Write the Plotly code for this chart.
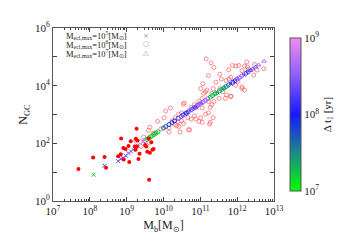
import plotly.graph_objects as go

# ---- data (log10 values) ----
# observed galaxies (red filled dots)
obs_logM = [7.69, 8.09, 8.40, 8.44, 8.84, 8.85, 8.91, 9.05, 8.92, 9.07, 9.11, 9.25, 9.27,
            9.22, 9.28, 9.32, 9.24, 9.35, 9.53, 9.56, 9.60, 9.63, 9.70, 9.67, 9.73, 9.61,
            8.77, 8.97, 9.29, 9.50]
obs_logN = [1.11, 1.51, 1.53, 1.15, 1.62, 2.17, 1.84, 1.91, 1.44, 1.35, 2.07, 2.16, 2.51,
            1.89, 1.89, 1.46, 1.78, 1.64, 1.89, 1.71, 2.17, 1.67, 1.78, 2.04, 1.80, 0.74,
            1.55, 1.80, 2.10, 1.94]

# observed galaxies (red open circles)
oc_logM = [11.16, 11.29, 11.37, 11.77, 11.87, 11.96, 12.04, 12.20, 12.30, 12.13, 12.45, 11.22,
           11.53, 11.57, 11.42, 11.70, 11.78, 12.02, 12.13, 12.20, 11.96, 11.07, 11.01, 11.14,
           11.31, 11.53, 11.61, 11.71, 11.83, 11.68, 11.51, 11.37, 11.22, 11.05, 10.96, 10.84,
           10.75, 10.88, 11.05, 11.22, 11.27, 11.14, 11.01, 10.88, 10.84, 10.75, 10.56, 10.49,
           10.62, 10.66, 10.41, 10.32, 10.39, 10.49, 10.71, 10.42, 11.05, 11.27, 10.06, 9.84,
           10.23, 10.32, 10.15, 9.63, 11.35, 10.54, 10.19, 10.02, 9.93, 9.59, 9.46, 9.61,
           9.72, 10.36, 10.15, 10.45, 9.39, 10.54, 10.68, 10.96, 11.25, 9.76, 12.28, 12.54,
           12.72, 11.83, 11.18, 11.09, 11.35, 12.13, 11.83, 11.31, 12.47, 12.26, 9.37, 9.24]
oc_logN = [4.93, 4.79, 4.63, 4.55, 4.70, 4.68, 4.70, 4.68, 4.57, 4.52, 4.37, 4.35,
           4.40, 4.23, 4.12, 4.18, 4.23, 4.15, 3.96, 3.85, 4.01, 4.07, 3.90, 3.79,
           3.73, 3.90, 3.79, 3.68, 3.64, 3.56, 3.56, 3.45, 3.45, 3.56, 3.45, 3.34,
           3.25, 3.23, 3.23, 3.06, 3.25, 3.01, 2.89, 2.84, 2.95, 2.84, 3.40, 3.06,
           3.06, 2.89, 3.01, 2.89, 2.75, 2.78, 2.47, 2.58, 2.73, 2.73, 3.12, 2.76,
           2.78, 2.65, 2.39, 2.56, 2.89, 3.36, 3.23, 2.89, 2.50, 2.45, 2.22, 2.02,
           2.34, 2.61, 2.54, 2.39, 1.89, 2.69, 2.47, 2.76, 2.67, 2.36, 4.65, 4.54,
           4.59, 4.29, 3.85, 3.73, 3.90, 3.90, 3.62, 3.34, 4.74, 4.82, 2.06, 2.11]

# model, M_ecl,max = 1e5 (crosses)
m5_logM = [8.10, 8.40, 8.77, 8.84, 8.90, 8.98, 9.05, 9.12, 9.18, 9.25, 9.30, 9.45,
           10.58, 10.72, 10.87, 11.02, 11.46, 11.82, 12.18]
m5_logN = [0.91, 1.22, 1.38, 1.46, 1.50, 1.57, 1.66, 1.72, 1.78, 1.86, 1.92, 2.06,
           3.02, 3.14, 3.26, 3.39, 3.77, 4.07, 4.38]
m5_logdt = [7.15, 7.7, 8.35, 8.3, 8.4, 8.35, 8.4, 8.45, 8.5, 8.5, 8.6, 8.65,
            8.2, 8.3, 8.4, 8.5, 7.4, 8.0, 8.3]

# model, M_ecl,max = 1e6 (open circles)
m6_logM = [9.50, 9.55, 9.60, 9.65, 9.70, 9.75, 9.80, 9.85, 10.00, 10.06, 10.15, 10.23,
           10.30, 10.40, 10.48, 10.53, 10.62, 10.67, 10.77, 10.82, 10.92, 10.97, 11.08,
           11.14, 11.20, 11.27, 11.33, 11.40, 11.52, 11.58, 11.64, 11.70, 11.76, 11.88,
           11.94, 12.00, 12.06, 12.12, 12.24, 12.30]
m6_logN = [2.10, 2.14, 2.19, 2.23, 2.27, 2.31, 2.36, 2.40, 2.53, 2.58, 2.65, 2.72,
           2.78, 2.87, 2.93, 2.98, 3.05, 3.09, 3.18, 3.22, 3.31, 3.35, 3.44,
           3.49, 3.55, 3.60, 3.66, 3.72, 3.82, 3.87, 3.92, 3.97, 4.02, 4.12,
           4.17, 4.23, 4.28, 4.33, 4.43, 4.48]
m6_logdt = [8.6, 7.1, 7.15, 7.2, 7.1, 7.25, 7.3, 7.2, 7.6, 7.7, 7.8, 7.9,
            7.95, 8.3, 8.4, 8.2, 8.1, 8.15, 8.3, 8.35, 8.4, 8.45, 8.5,
            8.55, 8.6, 7.2, 7.25, 7.3, 7.35, 7.3, 7.45, 7.5, 7.6, 8.0,
            8.1, 8.45, 8.55, 8.6, 8.2, 8.25]

# model, M_ecl,max = 1e7 (open triangles)
m7_logM = [10.87, 11.02, 11.40, 11.64, 12.00, 12.36, 12.42, 12.50, 12.58, 12.73]
m7_logN = [3.26, 3.39, 3.72, 3.92, 4.23, 4.53, 4.58, 4.65, 4.72, 4.85]
m7_logdt = [8.3, 8.5, 7.3, 7.4, 8.5, 8.3, 8.35, 8.4, 8.6, 8.75]

x_tickvals = [1e7, 1e8, 1e9, 1e10, 1e11, 1e12, 1e13]
x_ticktext = ["10<sup>7</sup>", "10<sup>8</sup>", "10<sup>9</sup>", "10<sup>10</sup>",
              "10<sup>11</sup>", "10<sup>12</sup>", "10<sup>13</sup>"]
y_tickvals = [1, 10, 100, 1e3, 1e4, 1e5, 1e6]
y_ticktext = ["10<sup>0</sup>", "", "10<sup>2</sup>", "", "10<sup>4</sup>", "", "10<sup>6</sup>"]
cb_tickvals = [7, 8, 9]
cb_ticktext = ["10<sup>7</sup>", "10<sup>8</sup>", "10<sup>9</sup>"]
legend_labels = ["M<sub>ecl,max</sub>=10<sup>5</sup>[M<sub>⊙</sub>]",
                 "M<sub>ecl,max</sub>=10<sup>6</sup>[M<sub>⊙</sub>]",
                 "M<sub>ecl,max</sub>=10<sup>7</sup>[M<sub>⊙</sub>]"]
legend_symbols = ["×", "○", "△"]

# ---- styling ----
FONT = "Liberation Serif"
cscale = [[0.0, "#00ff00"], [0.25, "#1a8a8a"], [0.5, "#1818ff"],
          [0.75, "#8a5cff"], [1.0, "#f28cf0"]]


def p10(v):
    return [10 ** a for a in v]


fig = go.Figure()

fig.add_trace(go.Scatter(
    x=p10(oc_logM), y=p10(oc_logN), mode="markers",
    marker=dict(symbol="circle-open", size=4, color="rgba(255,80,80,0.8)",
                line=dict(width=0.8)),
    showlegend=False))

common = dict(colorscale=cscale, cmin=7, cmax=9)
fig.add_trace(go.Scatter(
    x=p10(m5_logM), y=p10(m5_logN), mode="markers",
    marker=dict(symbol="x-thin-open", size=4, color=m5_logdt, line=dict(width=1), **common),
    showlegend=False))
fig.add_trace(go.Scatter(
    x=p10(m6_logM), y=p10(m6_logN), mode="markers",
    marker=dict(symbol="circle-open", size=4, color=m6_logdt, line=dict(width=1), **common),
    showlegend=False))
fig.add_trace(go.Scatter(
    x=p10(m7_logM), y=p10(m7_logN), mode="markers",
    marker=dict(symbol="triangle-up-open", size=4, color=m7_logdt, line=dict(width=1),
                showscale=True,
                colorbar=dict(x=1.026, xanchor="left", y=0.5, yanchor="middle", len=1,
                              lenmode="fraction", thickness=11, outlinecolor="#555",
                              outlinewidth=1, tickvals=cb_tickvals, ticktext=cb_ticktext,
                              ticks="inside", ticklen=3, tickcolor="#333",
                              tickfont=dict(family=FONT, size=11, color="#222"),
                              title=dict(text="Δ t<sub>1</sub> [yr]", side="right",
                                         font=dict(family=FONT, size=11, color="#222"))),
                **common),
    showlegend=False))

fig.add_trace(go.Scatter(
    x=p10(obs_logM), y=p10(obs_logN), mode="markers",
    marker=dict(symbol="circle", size=4, color="#ff0000"),
    showlegend=False))

minor_x = [m * 10 ** e for e in range(7, 13) for m in range(2, 10)]
minor_y = [m * 10 ** e for e in range(0, 6) for m in range(2, 10)]

fig.update_xaxes(type="log", range=[7, 13], tickvals=x_tickvals, ticktext=x_ticktext,
                 ticks="inside", ticklen=4, tickcolor="#444", showline=True,
                 linecolor="#555", linewidth=1, mirror="ticks", showgrid=False,
                 zeroline=False, tickfont=dict(family=FONT, size=11, color="#222"),
                 minor=dict(tickvals=minor_x, ticks="inside", ticklen=2, tickcolor="#444"),
                 title=dict(text="M<sub>b</sub>[M<sub>⊙</sub>]", standoff=4,
                            font=dict(family=FONT, size=12, color="#222")))
fig.update_yaxes(type="log", range=[0, 6], tickvals=y_tickvals, ticktext=y_ticktext,
                 ticks="inside", ticklen=4, tickcolor="#444", showline=True,
                 linecolor="#555", linewidth=1, mirror="ticks", showgrid=False,
                 zeroline=False, tickfont=dict(family=FONT, size=11, color="#222"),
                 title=dict(text="N<sub>GC</sub>", standoff=4,
                            font=dict(family=FONT, size=12, color="#222")))

annotations = []
for i, (lab, sym) in enumerate(zip(legend_labels, legend_symbols)):
    yy = 0.955 - 0.05 * i
    annotations.append(dict(xref="paper", yref="paper", x=0.345, y=yy, xanchor="right",
                            yanchor="middle", text=lab, showarrow=False,
                            font=dict(family=FONT, size=8.5, color="#222")))
    annotations.append(dict(xref="paper", yref="paper", x=0.422, y=yy, xanchor="center",
                            yanchor="middle", text=sym, showarrow=False,
                            font=dict(family="DejaVu Sans", size=7, color="#999")))

fig.update_layout(width=350, height=245, margin=dict(l=45, r=73, t=14, b=52),
                  plot_bgcolor="white", paper_bgcolor="white", annotations=annotations,
                  font=dict(family=FONT))

fig.write_html("out.html")
